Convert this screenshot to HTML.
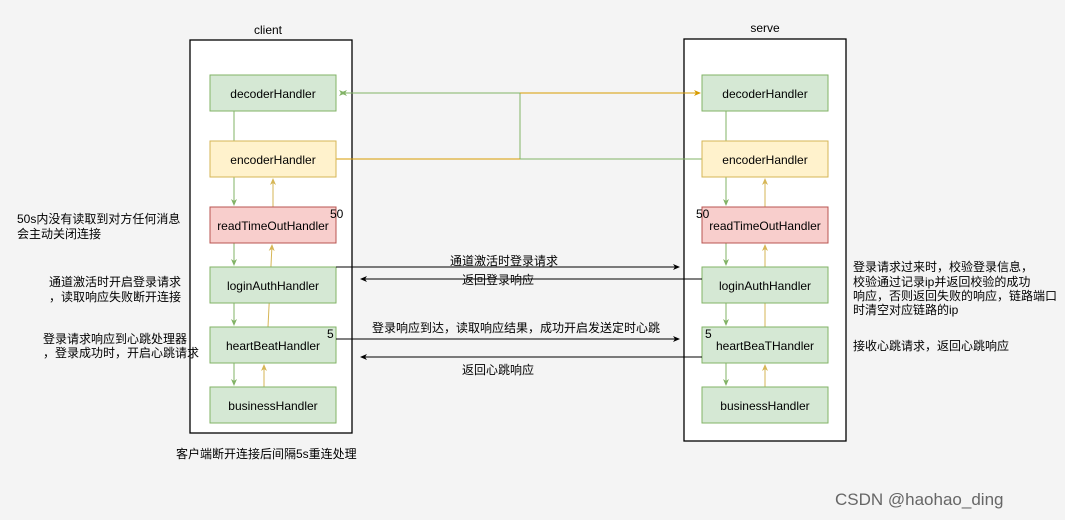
<!DOCTYPE html>
<html><head><meta charset="utf-8"><style>
body{margin:0;background:#f4f4f4;}
svg{display:block;font-family:"Liberation Sans","Noto Sans CJK SC",sans-serif;}
</style></head><body>
<svg width="1065" height="520" viewBox="0 0 1065 520" xmlns="http://www.w3.org/2000/svg">
<defs>
<marker id="ag" markerWidth="8" markerHeight="8" refX="6" refY="4" orient="auto" markerUnits="userSpaceOnUse"><path d="M0,1 L7,4 L0,7 L2,4z" fill="#82b366"/></marker>
<marker id="ay" markerWidth="8" markerHeight="8" refX="6" refY="4" orient="auto" markerUnits="userSpaceOnUse"><path d="M0,1 L7,4 L0,7 L2,4z" fill="#d6b656"/></marker>
<marker id="ao" markerWidth="8" markerHeight="8" refX="6" refY="4" orient="auto" markerUnits="userSpaceOnUse"><path d="M0,1 L7,4 L0,7 L2,4z" fill="#d79b00"/></marker>
<marker id="ab" markerWidth="8" markerHeight="8" refX="6" refY="4" orient="auto" markerUnits="userSpaceOnUse"><path d="M0,1 L7,4 L0,7 L2,4z" fill="#000"/></marker>
</defs>
<rect x="190" y="40" width="162" height="393" fill="#fff" stroke="#000" stroke-width="1.3"/>
<rect x="684" y="39" width="162" height="402" fill="#fff" stroke="#000" stroke-width="1.3"/>
<text x="268" y="34" font-size="12" text-anchor="middle">client</text>
<text x="765" y="32" font-size="12" text-anchor="middle">serve</text>

<!-- cross connectors -->
<line x1="520" y1="93" x2="520" y2="159" stroke="#82b366"/>
<line x1="345" y1="93" x2="520" y2="93" stroke="#82b366" marker-start="url(#ag)"/>
<path d="M340,93 l7,-3 l-2,3 l2,3z" fill="#82b366"/>
<line x1="520" y1="93" x2="700" y2="93" stroke="#d79b00" marker-end="url(#ao)"/>
<line x1="336" y1="159" x2="520" y2="159" stroke="#d79b00"/>
<line x1="520" y1="159" x2="702" y2="159" stroke="#82b366"/>

<!-- client internal -->
<g stroke="#82b366" fill="none">
<line x1="234" y1="111" x2="234" y2="141"/>
<line x1="234" y1="177" x2="234" y2="205" marker-end="url(#ag)"/>
<line x1="234" y1="243" x2="234" y2="265" marker-end="url(#ag)"/>
<line x1="234" y1="303" x2="234" y2="325" marker-end="url(#ag)"/>
<line x1="234" y1="363" x2="234" y2="385" marker-end="url(#ag)"/>
</g>
<g stroke="#d6b656" fill="none">
<line x1="273" y1="207" x2="273" y2="179" marker-end="url(#ay)"/>
<line x1="268" y1="327" x2="272" y2="245" marker-end="url(#ay)"/>
<line x1="264" y1="387" x2="264" y2="365" marker-end="url(#ay)"/>
</g>
<!-- server internal -->
<g stroke="#82b366" fill="none">
<line x1="726" y1="111" x2="726" y2="205" marker-end="url(#ag)"/>
<line x1="726" y1="243" x2="726" y2="265" marker-end="url(#ag)"/>
<line x1="726" y1="303" x2="726" y2="325" marker-end="url(#ag)"/>
<line x1="726" y1="363" x2="726" y2="385" marker-end="url(#ag)"/>
</g>
<g stroke="#d6b656" fill="none">
<line x1="765" y1="207" x2="765" y2="179" marker-end="url(#ay)"/>
<line x1="765" y1="327" x2="765" y2="245" marker-end="url(#ay)"/>
<line x1="765" y1="387" x2="765" y2="365" marker-end="url(#ay)"/>
</g>

<!-- boxes -->
<g font-size="12" text-anchor="middle">
<rect x="210" y="75" width="126" height="36" fill="#d5e8d4" stroke="#82b366"/><text x="273" y="98">decoderHandler</text>
<rect x="210" y="141" width="126" height="36" fill="#fff2cc" stroke="#d6b656"/><text x="273" y="164">encoderHandler</text>
<rect x="210" y="207" width="126" height="36" fill="#f8cecc" stroke="#b85450"/><text x="273" y="230">readTimeOutHandler</text>
<rect x="210" y="267" width="126" height="36" fill="#d5e8d4" stroke="#82b366"/><text x="273" y="290">loginAuthHandler</text>
<rect x="210" y="327" width="126" height="36" fill="#d5e8d4" stroke="#82b366"/><text x="273" y="350">heartBeatHandler</text>
<rect x="210" y="387" width="126" height="36" fill="#d5e8d4" stroke="#82b366"/><text x="273" y="410">businessHandler</text>

<rect x="702" y="75" width="126" height="36" fill="#d5e8d4" stroke="#82b366"/><text x="765" y="98">decoderHandler</text>
<rect x="702" y="141" width="126" height="36" fill="#fff2cc" stroke="#d6b656"/><text x="765" y="164">encoderHandler</text>
<rect x="702" y="207" width="126" height="36" fill="#f8cecc" stroke="#b85450"/><text x="765" y="230">readTimeOutHandler</text>
<rect x="702" y="267" width="126" height="36" fill="#d5e8d4" stroke="#82b366"/><text x="765" y="290">loginAuthHandler</text>
<rect x="702" y="327" width="126" height="36" fill="#d5e8d4" stroke="#82b366"/><text x="765" y="350">heartBeaTHandler</text>
<rect x="702" y="387" width="126" height="36" fill="#d5e8d4" stroke="#82b366"/><text x="765" y="410">businessHandler</text>
</g>
<g font-size="12">
<text x="330" y="218">50</text>
<text x="696" y="218">50</text>
<text x="327" y="338">5</text>
<text x="705" y="338">5</text>
</g>

<!-- black arrows -->
<g stroke="#000" fill="none">
<line x1="336" y1="267" x2="679" y2="267" marker-end="url(#ab)"/>
<line x1="702" y1="279" x2="361" y2="279" marker-end="url(#ab)"/>
<line x1="336" y1="339" x2="679" y2="339" marker-end="url(#ab)"/>
<line x1="702" y1="357" x2="361" y2="357" marker-end="url(#ab)"/>
</g>
<g font-size="12">
<text x="450" y="265">通道激活时登录请求</text>
<text x="462" y="284">返回登录响应</text>
<text x="372" y="332">登录响应到达，读取响应结果，成功开启发送定时心跳</text>
<text x="462" y="374">返回心跳响应</text>

<text x="17" y="223">50s内没有读取到对方任何消息</text>
<text x="17" y="238">会主动关闭连接</text>
<text x="49" y="286">通道激活时开启登录请求</text>
<text x="49" y="301">，读取响应失败断开连接</text>
<text x="43" y="343">登录请求响应到心跳处理器</text>
<text x="43" y="357">，登录成功时，开启心跳请求</text>
<text x="853" y="271">登录请求过来时，校验登录信息，</text>
<text x="853" y="286">校验通过记录ip并返回校验的成功</text>
<text x="853" y="300">响应，否则返回失败的响应，链路端口</text>
<text x="853" y="314">时清空对应链路的ip</text>
<text x="853" y="350">接收心跳请求，返回心跳响应</text>
<text x="176" y="458">客户端断开连接后间隔5s重连处理</text>
</g>
<text x="835" y="505" font-size="17" fill="#666">CSDN @haohao_ding</text>
</svg>
</body></html>
